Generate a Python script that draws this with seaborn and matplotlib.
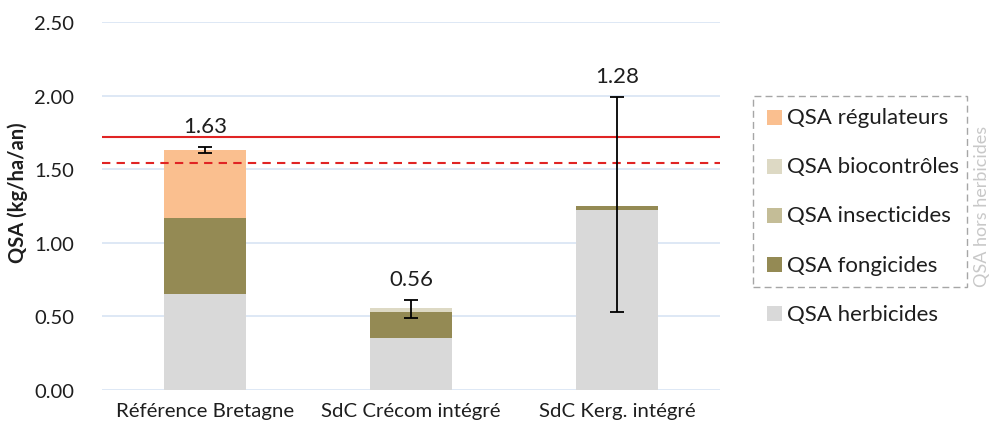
import matplotlib
matplotlib.use("Agg")
import matplotlib.pyplot as plt
from matplotlib.patches import Rectangle
import numpy as np
import pandas as pd
import seaborn as sns

# data
categories = ["Référence Bretagne", "SdC Crécom intégré", "SdC Kerg. intégré"]
herbicides = [0.65, 0.35, 1.22]
fongicides = [0.52, 0.18, 0.03]
insecticides = [0.0, 0.0, 0.0]
biocontroles = [0.0, 0.03, 0.0]
regulateurs = [0.46, 0.0, 0.0]
totals = [1.63, 0.56, 1.28]
err_low = [1.61, 0.49, 0.53]
err_high = [1.65, 0.61, 1.99]
ref_solid = 1.717
ref_dashed = 1.542
yticks = [0.0, 0.5, 1.0, 1.5, 2.0, 2.5]

# stacking order (bottom -> top), with legend labels and colours
layers = [
    ("QSA herbicides", herbicides, "#D9D9D9"),
    ("QSA fongicides", fongicides, "#948A54"),
    ("QSA insecticides", insecticides, "#C4BD97"),
    ("QSA biocontrôles", biocontroles, "#DDD9C4"),
    ("QSA régulateurs", regulateurs, "#FABF8F"),
]

sns.set_style("white")
plt.rcParams["font.family"] = ["Lato", "DejaVu Sans"]
TXT = "#1E1E1E"

W, H = 993, 435
fig = plt.figure(figsize=(W / 100, H / 100), dpi=100)
ax = fig.add_axes([102 / W, 1 - 391 / H, 618 / W, 368 / H])


def px(x, y):
    """ pixel coords (top-left origin) -> figure fraction """
    return x / W, 1 - y / H


# gridlines behind bars
for t in yticks:
    ax.axhline(t, color="#D5E2F3", lw=1.1, zorder=0)

bottom = np.zeros(len(categories))
for name, vals, col in layers:
    df = pd.DataFrame({"cat": categories, "val": vals})
    sns.barplot(data=df, x="cat", y="val", bottom=bottom, color=col,
                width=0.4, errorbar=None, saturation=1, ax=ax, zorder=2,
                linewidth=0)
    bottom = bottom + np.array(vals)

# reference lines
ax.axhline(ref_solid, color="#E02424", lw=1.5, zorder=3)
ax.axhline(ref_dashed, color="#E02424", lw=1.5, ls=(0, (4, 3)), zorder=3)

# error bars
lo = np.array(err_low)
hi = np.array(err_high)
xs = np.arange(len(categories))
ax.errorbar(xs, (lo + hi) / 2, yerr=(hi - lo) / 2, fmt="none", ecolor="black",
            elinewidth=1.3, capsize=5, capthick=1.3, zorder=4)

# total labels
for x, t, h in zip(xs, totals, hi):
    ax.annotate(f"{t:.2f}", (x, h), xytext=(0, 8), textcoords="offset points",
                ha="center", va="bottom", fontsize=16, color=TXT)

ax.set_xlim(-0.5, 2.5)
ax.set_ylim(0, 2.5)
ax.set_yticks(yticks)
ax.set_yticklabels([f"{t:.2f}" for t in yticks])
ax.tick_params(axis="both", length=0, colors=TXT)
ax.tick_params(axis="y", pad=20, labelsize=14.5)
ax.tick_params(axis="x", pad=9, labelsize=14.7)
ax.set_xlabel("")
ax.set_ylabel("QSA (kg/ha/an)", fontsize=14.5, fontweight="bold", color=TXT)
ax.yaxis.set_label_coords(-0.12, 0.54)
sns.despine(ax=ax, left=True, bottom=True)

# legend, drawn by hand like the Excel one
leg_order = ["QSA régulateurs", "QSA biocontrôles", "QSA insecticides",
             "QSA fongicides", "QSA herbicides"]
colors = {name: col for name, _, col in layers}
sq = 15
for i, name in enumerate(leg_order):
    yc = 118 + i * 49.2
    x0, y0 = px(767, yc + sq / 2)
    fig.add_artist(Rectangle((x0, y0), sq / W, sq / H, transform=fig.transFigure,
                             facecolor=colors[name], edgecolor="none"))
    fx, fy = px(787, yc)
    fig.text(fx, fy, name, fontsize=16, va="center", ha="left", color=TXT)

bx, by = px(753, 288)
fig.add_artist(Rectangle((bx, by), (967 - 753) / W, (288 - 97) / H,
                         transform=fig.transFigure, facecolor="none",
                         edgecolor="#A6A6A6", lw=1, ls=(0, (5, 3))))
tx, ty = px(982.5, 206)
fig.text(tx, ty, "QSA hors herbicides", rotation=90, fontsize=13, color="#C8C8C8",
         ha="center", va="center")

fig.savefig("out.png", dpi=100)
